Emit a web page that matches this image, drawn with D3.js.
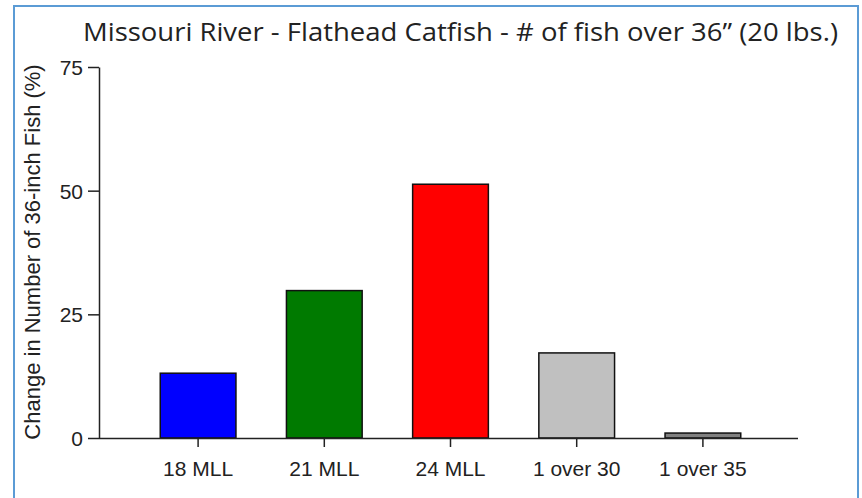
<!DOCTYPE html>
<html><head><meta charset="utf-8">
<script src="https://cdn.jsdelivr.net/npm/d3@7"></script>
<style>body{margin:0;background:#fff}svg{display:block}</style>
</head><body><svg id="c" width="862" height="498"></svg>
<script>
const categories = ["18 MLL","21 MLL","24 MLL","1 over 30","1 over 35"];
const values = [13.1, 29.8, 51.3, 17.2, 1.0];
const colors = ["#0000ff","#007a00","#ff0000","#c0c0c0","#808080"];
const yTicks = [0,25,50,75];
const title = "Missouri River - Flathead Catfish - # of fish over 36\u201d (20 lbs.)";
const yTitle = "Change in Number of 36-inch Fish (%)";

const svg = d3.select("#c");
svg.append("path").attr("d","M14,500 L14,6 L858,6 L858,500")
  .attr("fill","none").attr("stroke","#5b9bd5").attr("stroke-width",2);

svg.append("text").attr("x",83).attr("y",41).attr("textLength",755).attr("lengthAdjust","spacingAndGlyphs")
  .attr("font-family","Open Sans, sans-serif").attr("font-size",26).attr("fill","#222").text(title);

const x = d3.scaleBand().domain(categories).range([135,766]).paddingInner(0.4).paddingOuter(0.2);
const y = d3.scaleLinear().domain([0,75]).range([438,67]);

svg.append("g").selectAll("rect").data(values).join("rect")
  .attr("x",(d,i)=>x(categories[i]))
  .attr("width",x.bandwidth())
  .attr("y",d=>y(d))
  .attr("height",d=>y(0)-y(d))
  .attr("fill",(d,i)=>colors[i])
  .attr("stroke","#111").attr("stroke-width",1.5);

const font = "Liberation Sans, Arial, sans-serif";
const ya = svg.append("g").attr("transform","translate(99,0)")
  .call(d3.axisLeft(y).tickValues(yTicks).tickSize(11).tickSizeOuter(0));
ya.select(".domain").attr("stroke","#222").attr("stroke-width",1.5);
ya.selectAll(".tick line").attr("stroke","#222").attr("stroke-width",1.5);
ya.selectAll(".tick text").attr("font-family",font).attr("font-size",21).attr("fill","#222")
  .attr("x",-16).attr("dy","0.36em");

const xa = svg.append("g").attr("transform","translate(0,438)")
  .call(d3.axisBottom(x).tickSize(9).tickSizeOuter(0));
xa.select(".domain").attr("d","M99,0.5H798").attr("stroke","#222").attr("stroke-width",1.5);
xa.selectAll(".tick line").attr("stroke","#222").attr("stroke-width",1.5);
xa.selectAll(".tick text").attr("font-family",font).attr("font-size",21).attr("fill","#222")
  .attr("y",38).attr("dy",null);

svg.append("text").attr("transform","translate(40,252) rotate(-90)").attr("text-anchor","middle")
  .attr("font-family",font).attr("font-size",22).attr("fill","#222").text(yTitle);
</script></body></html>
